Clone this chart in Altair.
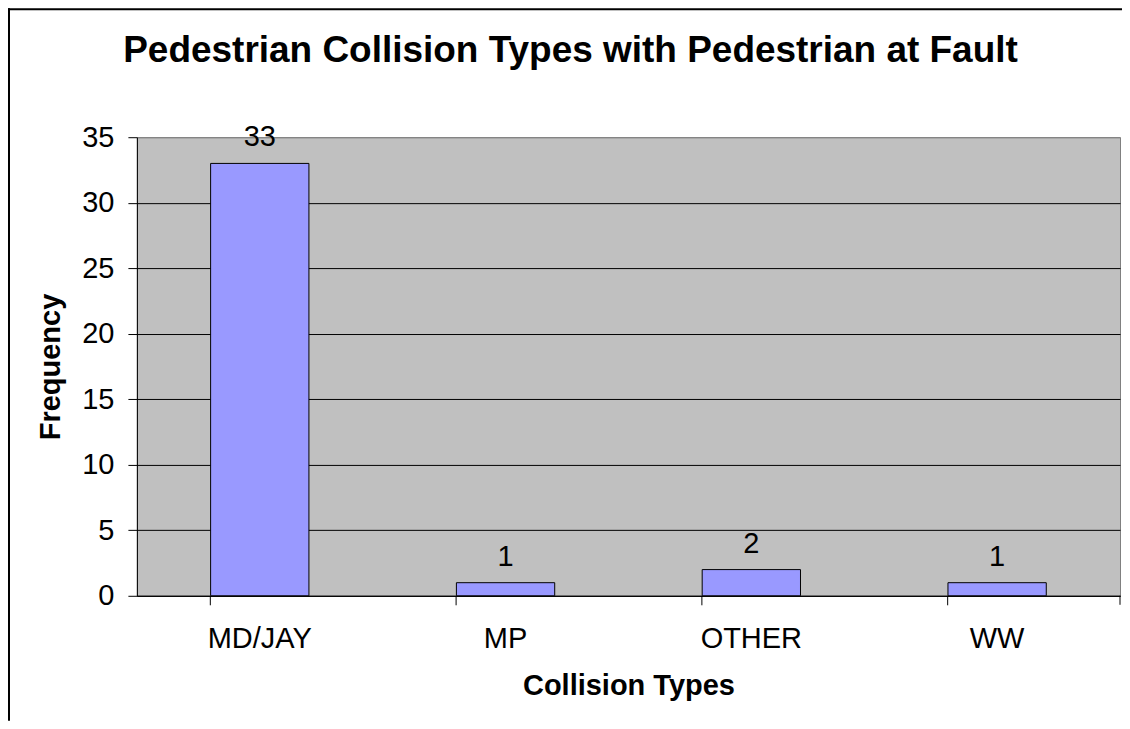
import altair as alt
import pandas as pd

categories = ["MD/JAY", "MP", "OTHER", "WW"]
values = [33, 1, 2, 1]
y_ticks = [0, 5, 10, 15, 20, 25, 30, 35]
title_text = "Pedestrian Collision Types with Pedestrian at Fault"

df = pd.DataFrame({"type": categories, "count": values})

W, H = 984, 459
FONT = "Liberation Sans"

x_enc = alt.X(
    "type:N",
    sort=categories,
    scale=alt.Scale(paddingInner=0.6, paddingOuter=0.3),
    axis=alt.Axis(
        title="Collision Types",
        labelAngle=0,
        bandPosition=0,
        labelFontSize=29,
        labelBaseline="top",
        labelPadding=20,
        labelColor="black",
        labelFont=FONT,
        tickSize=9,
        tickColor="black",
        domainColor="black",
        titleFontSize=29,
        titleFontWeight="bold",
        titleFont=FONT,
        titleColor="black",
        titleX=492,
        titleY=99,
        titleBaseline="alphabetic",
        titleAlign="center",
        grid=False,
    ),
)

y_enc = alt.Y(
    "count:Q",
    scale=alt.Scale(domain=[0, 35], nice=False),
    axis=alt.Axis(
        title="Frequency",
        values=y_ticks,
        labelFontSize=29,
        labelPadding=14,
        labelColor="black",
        labelFont=FONT,
        labelBaseline="middle",
        tickSize=9,
        tickColor="black",
        domainColor="black",
        grid=True,
        gridColor={"condition": {"test": "datum.value === 35", "value": "#808080"}, "value": "black"},
        gridWidth=1,
        titleFontSize=29,
        titleFontWeight="bold",
        titleFont=FONT,
        titleColor="black",
        titleAngle=-90,
        titleX=-77,
        titleY=229.5,
        titleAlign="center",
        titleBaseline="alphabetic",
    ),
)

bars = alt.Chart(df).mark_bar(color="#9999FF", stroke="black", strokeWidth=1).encode(
    x=x_enc, y=y_enc
)

labels = alt.Chart(df).mark_text(
    fontSize=29, font=FONT, color="black", baseline="alphabetic", dy=-17
).encode(
    x=alt.X("type:N", sort=categories),
    y=alt.Y("count:Q"),
    text=alt.Text("count:Q"),
)

one = pd.DataFrame({"title": [title_text]})
title_mark = alt.Chart(one).mark_text(
    fontSize=37, fontWeight="bold", font=FONT, color="black",
    align="center", baseline="alphabetic",
).encode(x=alt.value(434), y=alt.value(-75), text="title:N")

end_tick = alt.Chart(one).mark_rule(color="black", strokeWidth=1).encode(
    x=alt.value(W), y=alt.value(H), y2=alt.value(H + 9)
)
border_top = alt.Chart(one).mark_rule(color="black", strokeWidth=2).encode(
    x=alt.value(-129), x2=alt.value(W + 2), y=alt.value(-128)
)
border_left = alt.Chart(one).mark_rule(color="black", strokeWidth=2).encode(
    x=alt.value(-128), y=alt.value(-129), y2=alt.value(H + 125)
)

chart = alt.layer(bars, labels, title_mark, end_tick, border_top, border_left).properties(
    width=W,
    height=H,
    autosize=alt.AutoSizeParams(type="none"),
    padding={"left": 129, "top": 129, "right": 2, "bottom": 125},
).configure(
    background="white",
    view=alt.ViewConfig(fill="#C0C0C0", stroke="#808080", strokeWidth=1),
)

chart.save("out.html", embed_options={"renderer": "svg", "actions": False})
